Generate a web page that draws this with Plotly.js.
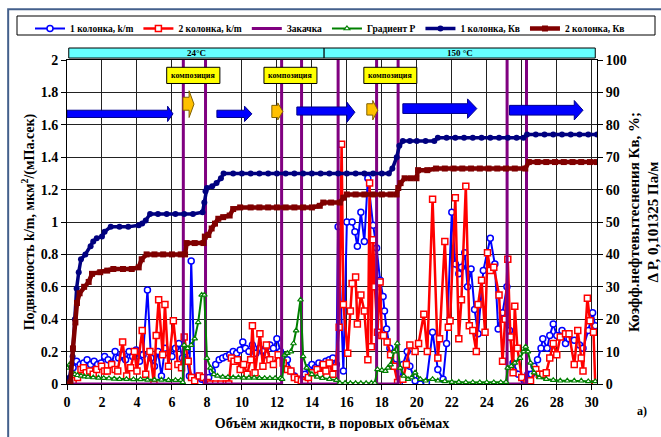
<!DOCTYPE html>
<html><head><meta charset="utf-8">
<script src="https://cdn.plot.ly/plotly-3.0.1.min.js"></script>
<style>html,body{margin:0;padding:0;background:#fff}#chart{width:661px;height:437px}</style>
</head><body><div id="chart"></div>
<script>
// ---- data ----
const seriesNames = ['1 колонка, k/m','2 колонка, k/m','Закачка','Градиент Р','1 колонка, Кв','2 колонка, Кв'];
const tempLabels = ['24°C','150 °C'];

const pvBlue = [0,0.15,0.35,0.55,0.75,0.95,1.15,1.35,1.55,1.75,1.95,2.15,2.35,2.55,2.75,2.95,3.15,3.35,3.55,3.75,3.95,4.15,4.35,4.6,4.8,5.0,5.2,5.4,5.6,5.8,6.0,6.2,6.4,6.6,6.8,7.0,7.1,7.3,7.5,7.7,7.9,8.1,8.3,8.5,8.7,8.9,9.1,9.3,9.5,9.7,9.9,10.05,10.2,10.4,10.6,10.8,11.0,11.2,11.4,11.6,11.8,12.0,12.2,12.4,12.6,12.8,13.0,13.2,13.4,13.6,13.8,14.0,14.2,14.4,14.6,14.8,15.0,15.2,15.4,15.5,15.8,16.0,16.3,16.46,16.6,16.8,17.0,17.2,17.5,17.7,17.9,18.07,18.15,18.27,18.46,18.74,19.0,19.2,19.45,19.6,19.9,20.2,20.55,20.9,21.2,21.5,21.7,22.0,22.2,22.4,22.55,22.74,22.9,23.1,23.3,23.5,23.8,24.2,24.46,24.65,24.9,25.15,25.3,25.5,25.8,26.1,26.35,26.55,26.7,26.9,27.1,27.2,27.45,27.6,27.8,28.0,28.3,28.5,28.7,29.0,29.3,29.5,29.8,30.05,30.2];
const kmBlue = [0,0.02,0.1,0.14,0.12,0.13,0.15,0.12,0.14,0.12,0.13,0.17,0.15,0.13,0.2,0.16,0.18,0.15,0.2,0.17,0.21,0.14,0.18,0.58,0.16,0.11,0.2,0.05,0.22,0.19,0.17,0.22,0.25,0.16,0.2,0.05,0.76,0.04,0.05,0.03,0.02,0.04,0.08,0.12,0.15,0.16,0.17,0.18,0.2,0.19,0.21,0.26,0.22,0.2,0.24,0.19,0.22,0.2,0.18,0.24,0.22,0.28,0.2,0.13,0.15,0.08,0.05,0.03,0.01,0.06,0.1,0.12,0.1,0.13,0.12,0.14,0.15,0.16,0.12,0.97,0.08,1.0,1.0,0.94,0.85,1.06,0.88,1.27,0.98,0.84,0.64,0.54,0.45,0.34,0.22,0.12,0.0,0.12,0.2,0.11,0.02,0.0,0.01,0.32,0.09,0.03,0.25,1.06,0.74,0.68,0.72,0.81,0.6,0.71,0.46,0.31,0.7,0.9,0.74,0.34,0.44,0.6,0.33,0.13,0.06,0.03,0.06,0.06,0.11,0.15,0.22,0.28,0.22,0.3,0.37,0.3,0.33,0.25,0.28,0.27,0.24,0.22,0.33,0.44,0.36];

const pvRed = [0,0.17,0.35,0.6,0.8,0.94,1.1,1.3,1.5,1.7,1.98,2.15,2.3,2.55,2.75,2.9,3.18,3.41,3.64,3.85,4.0,4.3,4.5,4.74,4.97,5.1,5.24,5.47,5.6,5.8,6.08,6.34,6.55,6.7,6.93,7.12,7.3,7.56,7.8,8.0,8.2,8.5,8.8,9.1,9.25,9.4,9.55,9.75,9.9,10.1,10.3,10.5,10.6,10.75,11.03,11.2,11.4,11.6,11.8,12.07,12.36,12.6,12.8,13.0,13.2,13.4,13.6,13.8,14.0,14.3,14.5,14.65,14.8,15.0,15.2,15.35,15.56,15.7,15.8,16.05,16.2,16.3,16.5,16.6,16.8,17.0,17.2,17.3,17.4,17.5,17.6,17.75,17.9,18.0,18.1,18.3,18.5,18.7,18.9,19.2,19.4,19.6,19.9,20.1,20.4,20.6,20.9,21.2,21.3,21.6,21.8,21.9,22.2,22.4,22.55,22.8,23.0,23.2,23.4,23.5,23.7,23.9,24.04,24.2,24.4,24.7,24.9,25.05,25.2,25.35,25.5,25.6,25.75,26.0,26.3,26.5,26.8,27.0,27.2,27.4,27.6,27.8,28.0,28.2,28.5,28.7,29.0,29.2,29.4,29.5,29.75,29.9,30.1,30.2];
const kmRed = [0,0,0.02,0.04,0.09,0.1,0.07,0.08,0.06,0.09,0.11,0.08,0.08,0.12,0.09,0.08,0.26,0.05,0.1,0.2,0.08,0.33,0.06,0.2,0.0,0.3,0.52,0.18,0.49,0.11,0.39,0.12,0.1,0.29,0.14,0.04,0.02,0.05,0.04,0.01,0.0,0.0,0.0,0.0,0.0,0.16,0.14,0.15,0.09,0.12,0.06,0.15,0.36,0.07,0.31,0.11,0.24,0.15,0.12,0.18,0.13,0.09,0.08,0.04,0.03,0.02,0.01,0.04,0.07,0.09,0.06,0.12,0.08,0.13,0.06,0.1,0.35,1.48,0.49,0.19,0.45,0.62,0.66,0.37,0.55,0.45,0.15,1.24,0.23,0.89,0.6,0.32,0.63,0.3,0.3,0.26,0.18,0.11,0.01,0.03,0.12,0.24,0.2,0.25,0.43,0.2,1.14,0.16,0.28,0.88,0.35,0.39,1.15,0.28,0.52,1.22,0.36,0.33,0.2,0.49,0.64,0.32,0.81,0.7,0.72,0.55,0.14,0.4,0.77,0.29,0.07,0.48,0.22,0.04,0.01,0.02,0.09,0.06,0.06,0.07,0.16,0.25,0.18,0.29,0.31,0.31,0.12,0.33,0.16,0.08,0.53,0.39,0.32,0.0];

const pvInj = [0.2,6.65,6.65,7.92,7.92,12.27,12.27,13.41,13.41,15.5,15.5,17.7,17.7,18.93,18.93,25.16,25.16,26.27,26.27,30.3];
const inj = [0,0,2.5,2.5,0,0,2.5,2.5,0,0,2.5,2.5,0,0,2.5,2.5,0,0,2.5,2.5];

const pvGrad = [0,0.15,0.3,0.45,0.6,0.8,1.0,1.2,1.5,1.8,2.1,2.4,2.7,3.0,3.4,3.8,4.2,4.6,5.0,5.4,5.8,6.2,6.5,6.62,6.7,6.9,7.1,7.3,7.5,7.7,7.85,8.0,8.2,8.4,8.6,8.9,9.2,9.5,9.8,10.1,10.4,10.7,11.0,11.3,11.6,11.9,12.2,12.3,12.45,12.6,12.8,12.95,13.1,13.35,13.5,13.7,14.0,14.3,14.6,15.0,15.4,15.6,15.9,16.2,16.5,16.8,17.1,17.4,17.6,17.75,18.0,18.2,18.35,18.5,18.7,18.88,19.05,19.25,19.5,19.7,19.9,20.2,20.5,20.9,21.2,21.6,22.0,22.4,22.8,23.2,23.6,24.0,24.4,24.8,25.1,25.2,25.4,25.6,25.9,26.1,26.22,26.35,26.5,26.7,27.0,27.4,27.8,28.2,28.6,29.0,29.4,29.8,30.2];
const gradP = [5,6,3.5,3,2.7,2.5,2.3,2.2,2,1.9,1.8,1.7,1.6,1.5,1.5,1.4,1.4,1.3,1.3,1.3,1.2,1.2,1.2,0.5,12,11,12,14,19,27.5,27.5,8,5,3,2.5,2.2,2.1,2,2,1.9,1.9,1.9,1.8,1.8,1.8,1.8,1.8,1.5,9,9.5,10,12.5,16.5,26,8.5,5,3,2.2,1.8,1.5,1.2,0.3,0.3,0.2,0.2,0.2,0.2,0.3,0.3,4.5,4.3,4,5,6,10,12.5,5,2.5,1.5,2,3.5,1.5,1,1.5,1,0.8,0.6,0.6,0.5,0.5,0.5,0.5,0.5,0.5,0.6,5,5.5,6.5,8,10,11.5,10,6.5,3.5,2,1.5,1.2,1,1,1,1,0.8,0.8,0.5];

const pvKv1 = [0,0.15,0.32,0.45,0.55,0.67,0.8,1.05,1.35,1.5,1.7,2.0,2.15,2.5,3.0,3.5,4.1,4.3,4.5,4.75,5.2,5.7,6.2,6.7,7.2,7.75,7.85,7.92,8.0,8.3,8.55,8.8,8.95,9.5,10.0,10.5,11.0,11.5,12.0,12.5,13.0,13.5,14.0,14.5,15.0,15.5,16.0,16.5,17.0,17.5,18.0,18.4,18.6,18.85,19.0,19.2,19.6,20.0,20.5,21.0,21.2,21.7,22.2,22.7,23.2,23.7,24.2,24.7,25.2,25.7,26.1,26.3,26.8,27.3,27.8,28.3,28.8,29.3,29.8,30.3];
const kv1 = [0,2,8.5,20,29.5,34.5,38.5,40,42.5,44,45,45.5,47,48.5,48.5,48.5,49,49.5,50.5,52.5,52.5,52.5,52.5,52.5,52.5,53,56,59.5,60.5,61,62,63.5,65,65,65,65,65,65,65,65,65,65,65,65,65,65,65,65,65,65,65,65,66.5,70,73.5,75,75,75,75,75,76,76,76,76,76,76,76,76,76,76,76,77,77,77,77,77,77,77,77,77];

const pvKv2 = [0,0.2,0.34,0.48,0.57,0.72,0.98,1.24,1.43,1.9,2.3,2.65,3.2,3.7,4.1,4.27,4.55,5.0,5.5,6.0,6.5,6.75,6.84,7.3,7.8,7.88,8.08,8.27,8.46,8.65,8.93,9.3,9.5,9.9,10.5,11.0,11.5,12.0,12.5,13.0,13.5,14.0,14.45,14.65,15.1,15.6,15.8,16.0,16.5,17.0,17.5,18.0,18.5,18.84,18.94,19.07,19.3,19.65,19.98,20.07,20.6,21.1,21.6,22.1,22.6,23.1,23.6,24.1,24.6,25.1,25.6,26.2,26.4,26.9,27.4,27.9,28.4,28.9,29.4,29.9,30.27];
const kv2 = [0,0.5,11,19,25,28,30,31.5,34,34.5,35,35.5,35.5,35.5,36,38.5,40,40,40,40,40,40,43.5,43.5,43.5,45.5,46,48,49.5,51,51.5,52,54,54.5,54.5,54.5,54.5,54.5,54.5,54.5,54.5,54.5,55,56,56,56,57.5,58.5,58.5,58.5,58.5,58.5,58.5,58.5,60.5,62,63.5,63.5,63.5,66,66,66.5,66.5,66.5,66.5,66.5,66.5,66.5,66.5,66.5,66.5,66.5,68.5,68.5,68.5,68.5,68.5,68.5,68.5,68.5,68.5];

// ---- decoration specs ----
const FONT = 'Liberation Serif, Times New Roman, serif';
const blueArrows = [
  [0.0,5.75,6.06,1.645,1.69,1.62,1.715],
  [8.57,10.15,10.57,1.645,1.69,1.62,1.715],
  [13.14,16.0,16.46,1.66,1.71,1.615,1.74],
  [19.2,22.9,23.43,1.67,1.73,1.64,1.76],
  [25.3,29.0,29.5,1.66,1.72,1.63,1.75]
];
const orangeArrows = [
  [6.63,6.98,7.26,1.69,1.77,1.645,1.81],
  [11.71,12.05,12.34,1.645,1.72,1.63,1.735],
  [17.14,17.48,17.77,1.66,1.73,1.63,1.75]
];
const boxes = [[5.7,8.74],[11.26,14.29],[16.97,20.0]];
const bandEdges = [0.1,14.7,30.2];

function arrowPath(a){
  const [x0,xt,x1,b0,b1,t0,t1]=a; const m=(t0+t1)/2;
  return `M${x0},${b0} L${xt},${b0} L${xt},${t0} L${x1},${m} L${xt},${t1} L${xt},${b1} L${x0},${b1} Z`;
}

const shapes = [];
const annotations = [];
// outer chart frame
shapes.push({type:'rect',xref:'paper',yref:'paper',x0:-0.111,x1:1.3,y0:-0.3,y1:1.157,line:{color:'#44608c',width:2},fillcolor:'rgba(0,0,0,0)'});
// legend box
shapes.push({type:'rect',xref:'paper',yref:'paper',x0:(17-67)/530,x1:(655-67)/530,y0:(384-35)/324,y1:(384-16)/324,line:{color:'#000',width:1},fillcolor:'rgba(0,0,0,0)'});
// temperature band
for(let i=0;i<2;i++){
  shapes.push({type:'rect',xref:'x',yref:'paper',x0:bandEdges[i],x1:bandEdges[i+1],y0:1.006,y1:1.037,fillcolor:'#66ffff',line:{color:'#000',width:1}});
  annotations.push({xref:'x',yref:'paper',x:(bandEdges[i]+bandEdges[i+1])/2,y:1.0215,xanchor:'center',yanchor:'middle',text:'<b>'+tempLabels[i]+'</b>',showarrow:false,font:{family:FONT,size:9,color:'#000'}});
}
blueArrows.forEach(a=>shapes.push({type:'path',xref:'x',yref:'y',path:arrowPath(a),fillcolor:'#0000ff',line:{color:'#00008b',width:1}}));
orangeArrows.forEach(a=>shapes.push({type:'path',xref:'x',yref:'y',path:arrowPath(a),fillcolor:'#ffc000',line:{color:'#7f6000',width:1}}));
boxes.forEach(b=>{
  shapes.push({type:'rect',xref:'x',yref:'y',x0:b[0],x1:b[1],y0:1.855,y1:1.955,fillcolor:'#ffff00',line:{color:'#000',width:1}});
  annotations.push({xref:'x',yref:'y',x:(b[0]+b[1])/2,y:1.905,xanchor:'center',yanchor:'middle',text:'<b>композиция</b>',showarrow:false,font:{family:FONT,size:8,color:'#000'}});
});
annotations.push({xref:'paper',yref:'paper',x:(642-67)/530,y:(384-411)/324,xanchor:'center',yanchor:'middle',text:'<b>а)</b>',showarrow:false,font:{family:FONT,size:12,color:'#000'}});

const traces = [
  {x:pvBlue,y:kmBlue,name:seriesNames[0],mode:'lines+markers',yaxis:'y',
   line:{color:'#0000ff',width:2},marker:{symbol:'circle',size:6,color:'#ffffff',line:{color:'#0000ff',width:1.5}}},
  {x:pvRed,y:kmRed,name:seriesNames[1],mode:'lines+markers',yaxis:'y',
   line:{color:'#ff0000',width:2.5},marker:{symbol:'square',size:6,color:'#ffffff',line:{color:'#ff0000',width:1.5}}},
  {x:pvInj,y:inj,name:seriesNames[2],mode:'lines',yaxis:'y',line:{color:'#800080',width:3}},
  {x:pvGrad,y:gradP,name:seriesNames[3],mode:'lines+markers',yaxis:'y2',
   line:{color:'#008000',width:2},marker:{symbol:'triangle-up',size:5,color:'#ffffff',line:{color:'#008000',width:1.2}}},
  {x:pvKv1,y:kv1,name:seriesNames[4],mode:'lines+markers',yaxis:'y2',
   line:{color:'#000080',width:3.5},marker:{symbol:'circle',size:6,color:'#000080'}},
  {x:pvKv2,y:kv2,name:seriesNames[5],mode:'lines+markers',yaxis:'y2',
   line:{color:'#800000',width:4.5},marker:{symbol:'square',size:6,color:'#800000'}}
];

const tickFont = {family:FONT,size:14,color:'#000',weight:700};
const layout = {
  width:661,height:437,
  margin:{l:67,r:64,t:60,b:53,pad:0},
  paper_bgcolor:'#fff',plot_bgcolor:'#fff',
  font:{family:FONT,color:'#000'},
  showlegend:true,
  legend:{orientation:'h',x:(30-67)/530,y:(384-14)/324,xanchor:'left',yanchor:'top',
    bgcolor:'rgba(0,0,0,0)',borderwidth:0,font:{family:FONT,size:9.5,color:'#000',weight:700},itemwidth:30},
  xaxis:{range:[0,30.3],dtick:2,tick0:0,showgrid:true,gridcolor:'#222',gridwidth:1,zeroline:false,
    showline:true,linecolor:'#000',linewidth:1,mirror:true,ticks:'outside',ticklen:5,tickcolor:'#000',
    tickfont:tickFont,
    title:{text:'<b>Объём жидкости, в поровых объёмах</b>',font:{family:FONT,size:14,color:'#000'},standoff:9}},
  yaxis:{range:[0,2],dtick:0.2,tick0:0,showgrid:true,gridcolor:'#222',gridwidth:1,zeroline:false,
    showline:true,linecolor:'#000',linewidth:1,mirror:true,ticks:'outside',ticklen:5,tickcolor:'#000',
    tickfont:tickFont,
    title:{text:'<b>Подвижность k/m, мкм<sup>2</sup>/(мПа.сек)</b>',font:{family:FONT,size:14,color:'#000'},standoff:2}},
  yaxis2:{range:[0,100],dtick:10,tick0:0,overlaying:'y',side:'right',showgrid:false,zeroline:false,
    showline:true,linecolor:'#000',linewidth:1,ticks:'outside',ticklen:5,tickcolor:'#000',
    tickfont:tickFont,
    title:{text:'<b>Коэфф.нефтевытеснения Кв, %;<br>Δ P, 0,101325 Па/м</b>',font:{family:FONT,size:15,color:'#000'},standoff:6}},
  shapes:shapes,
  annotations:annotations
};

Plotly.newPlot('chart',traces,layout,{staticPlot:true,displayModeBar:false});
</script></body></html>
